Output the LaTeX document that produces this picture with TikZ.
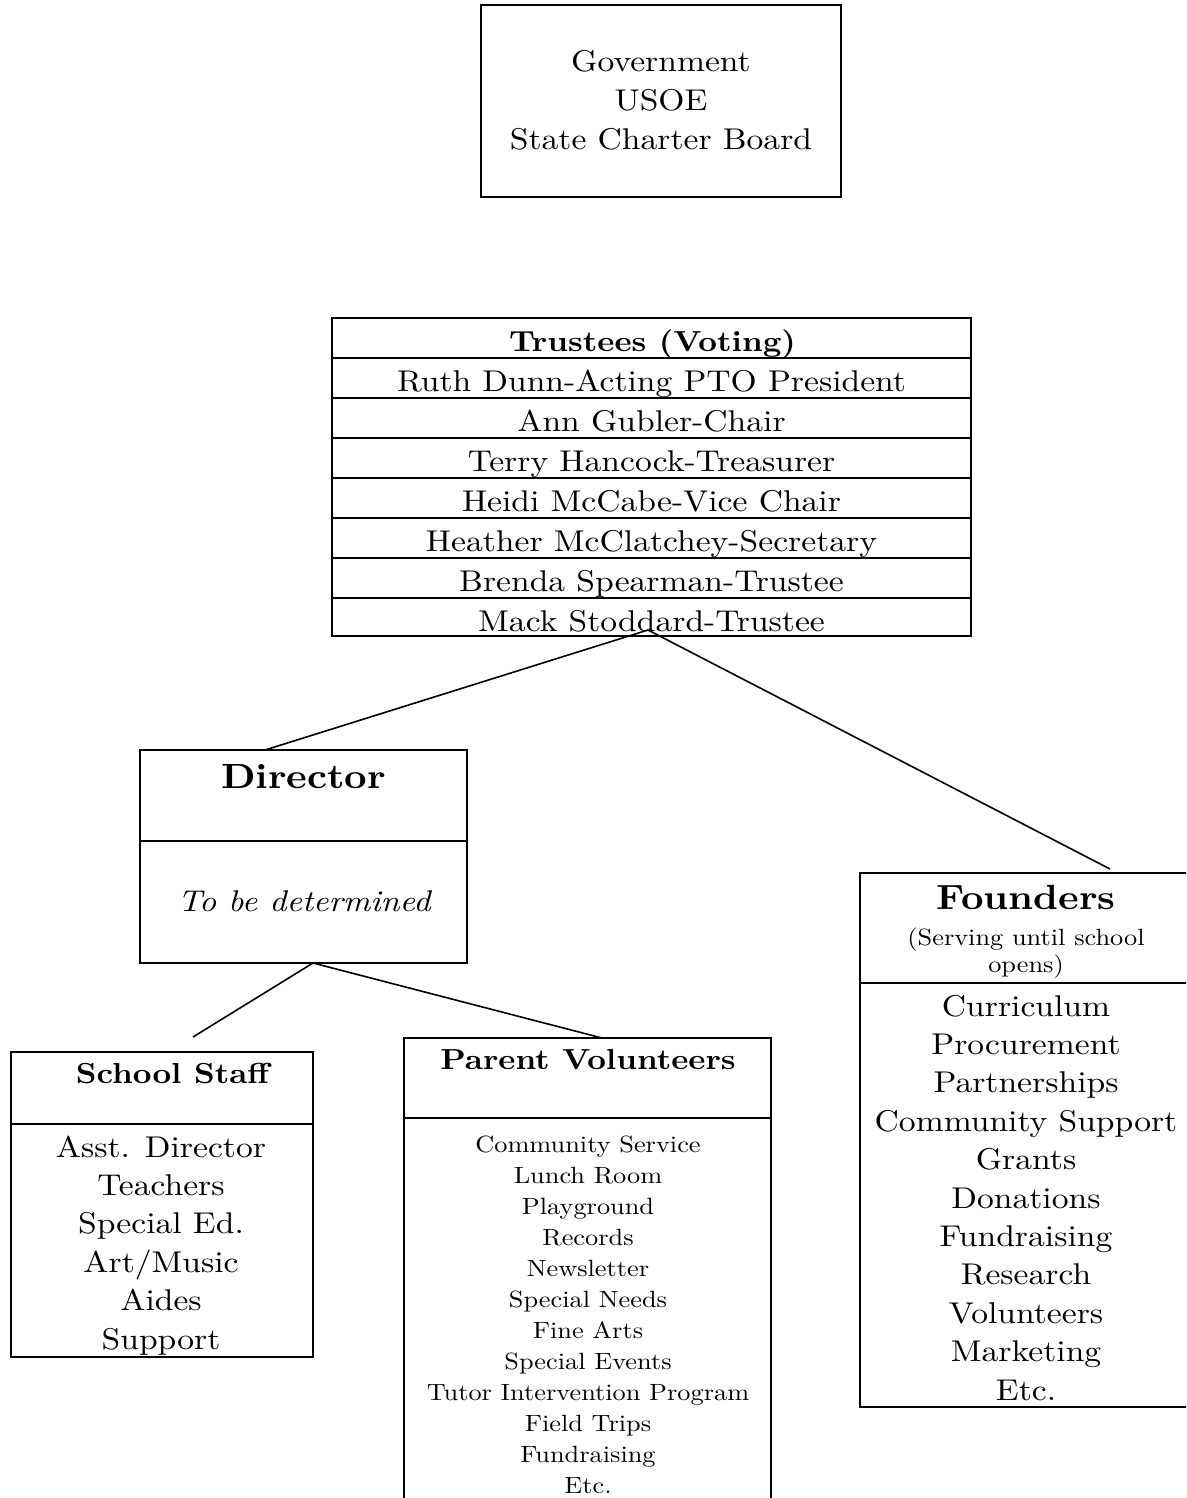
\documentclass[tikz,border=0pt]{standalone}
\usepackage{fontspec}
\setmainfont{lmroman10-regular.otf}[BoldFont=lmroman10-bold.otf, ItalicFont=lmroman10-italic.otf, BoldItalicFont=lmroman10-bolditalic.otf, FakeStretch=1.12]
\usetikzlibrary{calc}
\begin{document}
\begin{tikzpicture}[x=1pt,y=-1pt,
  box/.style={draw, line width=2pt, inner sep=0pt, rectangle},
  rule/.style={line width=2pt},
  conn/.style={line width=1.6pt},
  txt/.style={inner sep=0pt, anchor=base, font=\fontsize{30}{36}\selectfont},
  small/.style={inner sep=0pt, anchor=base, font=\fontsize{23.5}{28}\selectfont},
  head/.style={inner sep=0pt, anchor=base, font=\fontsize{29}{34}\selectfont\bfseries},
  bighead/.style={inner sep=0pt, anchor=base, font=\fontsize{35}{40}\selectfont\bfseries}]
\useasboundingbox (0,0) rectangle (1186,1498);
\clip (0,0) rectangle (1186,1498);

% Government
\node[box, minimum width=360pt, minimum height=192pt] (gov) at (661,101) {};
\node[txt] (g1) at (661,72) {Government};
\node[txt] (g2) at (661,111) {USOE};
\node[txt] (g3) at (661,150) {State Charter Board};

% Trustees table
\node[box, minimum width=639pt, minimum height=318pt] (tru) at (651.5,477) {};
\foreach \yy in {358,398,438,478,518,558,598}
  \draw[rule] (tru.west |- 0,\yy) -- (tru.east |- 0,\yy);
\node[head] (th) at (652.5,351) {Trustees (Voting)};
\foreach \t [count=\i] in {Ruth Dunn-Acting PTO President, Ann Gubler-Chair, Terry Hancock-Treasurer, Heidi McCabe-Vice Chair, Heather McClatchey-Secretary, Brenda Spearman-Trustee, Mack Stoddard-Trustee}
  \node[txt] (t\i) at (651.5,{351+40*\i}) {\t};

% Director
\node[box, minimum width=327pt, minimum height=213pt] (dir) at (303.5,856.5) {};
\draw[rule] (dir.west |- 0,841) -- (dir.east |- 0,841);
\node[bighead] (dh) at (303.5,788) {Director};
\node[txt, font=\fontsize{30}{36}\selectfont\itshape] (dt) at (304,911) {To be determined};

% School Staff
\node[box, minimum width=302pt, minimum height=305pt] (ss) at (162,1204.5) {};
\draw[rule] (ss.west |- 0,1124) -- (ss.east |- 0,1124);
\node[head] (sh) at (172.5,1083) {School Staff};
\foreach \t [count=\i] in {Asst. Director, Teachers, Special Ed., Art/Music, Aides, Support}
  \node[txt] (s\i) at (161,{1157+38.4*(\i-1)}) {\t};

% Parent Volunteers
\node[box, minimum width=367pt, minimum height=472pt] (pv) at (587.5,1274) {};
\draw[rule] (pv.west |- 0,1118) -- (pv.east |- 0,1118);
\node[head] (ph) at (588,1069) {Parent Volunteers};
\foreach \t [count=\i] in {Community Service, Lunch Room, Playground, Records, Newsletter, Special Needs, Fine Arts, Special Events, Tutor Intervention Program, Field Trips, Fundraising, Etc.}
  \node[small] (p\i) at (588,{1152+31*(\i-1)}) {\t};

% Founders
\node[box, minimum width=340pt, minimum height=534pt] (fo) at (1030,1140) {};
\draw[rule] (fo.west |- 0,983) -- (fo.east |- 0,983);
\node[bighead] (fh) at (1026,909) {Founders};
\node[small] (fs1) at (1026,945) {(Serving until school};
\node[small] (fs2) at (1026,972) {opens)};
\foreach \t [count=\i] in {Curriculum, Procurement, Partnerships, Community Support, Grants, Donations, Fundraising, Research, Volunteers, Marketing, Etc.}
  \node[txt] (f\i) at (1026,{1016+38.4*(\i-1)}) {\t};

% Connectors
\coordinate (tj) at (648,630);
\coordinate (dirin) at (265,750);
\coordinate (foin) at (1110,869);
\coordinate (dj) at (313,963);
\coordinate (ssin) at (193,1037);
\coordinate (pvin) at (602,1038);
\draw[conn] (tj) -- (dirin);
\draw[conn] (tj) -- (foin);
\draw[conn] (dj) -- (ssin);
\draw[conn] (dj) -- (pvin);
\end{tikzpicture}
\end{document}
